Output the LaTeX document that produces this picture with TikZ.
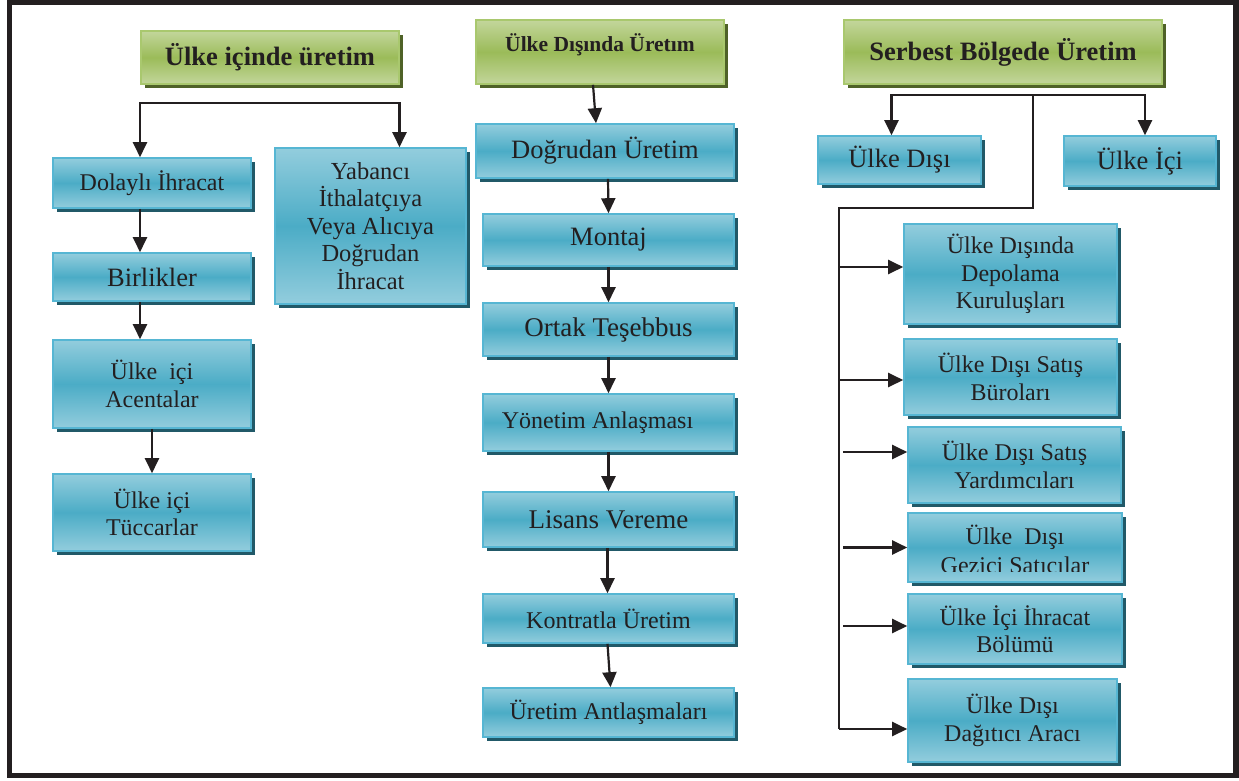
\documentclass[tikz,border=0pt]{standalone}
\usepackage{fontspec}
\setmainfont{Liberation Serif}
\usetikzlibrary{arrows.meta,shadows,calc}

\definecolor{blueLight}{HTML}{93CDDD}
\definecolor{blueMid}{HTML}{4BACC6}
\definecolor{blueEdge}{HTML}{56B6D3}
\definecolor{blueShadow}{HTML}{215968}
\definecolor{greenLight}{HTML}{C3D69B}
\definecolor{greenMid}{HTML}{9BBB59}
\definecolor{greenEdge}{HTML}{A9C86E}
\definecolor{greenShadow}{HTML}{4F6228}
\definecolor{ink}{HTML}{231F20}

\tikzset{
  fs/.style={font=\fontsize{#1}{27.5}\selectfont},
  bluebox/.style={draw=blueEdge, line width=1.6pt,
    top color=blueLight, bottom color=blueLight, middle color=blueMid,
    drop shadow={shadow xshift=4pt, shadow yshift=-4pt, fill=blueShadow, opacity=1},
    align=center, inner sep=2pt, text=ink, fs=24},
  greenbox/.style={draw=greenEdge, line width=1.6pt,
    top color=greenLight, bottom color=greenLight, middle color=greenMid,
    drop shadow={shadow xshift=4pt, shadow yshift=-4pt, fill=greenShadow, opacity=1},
    align=center, inner sep=2pt, text=ink},
  bsize/.style n args={2}{minimum width=#1pt, minimum height=#2pt},
  link/.style={draw=ink, line width=2.2pt},
  arr/.style={link, -{Triangle[length=15pt,width=14pt]}},
  arrtwo/.style={link, {Triangle[length=15pt,width=14pt]}-{Triangle[length=15pt,width=14pt]}},
}

\begin{document}
\begin{tikzpicture}[x=1pt,y=-1pt]
% page and outer frame
\path[fill=white] (0,0) rectangle (1239,780);
\useasboundingbox (0,0) rectangle (1239,780);
\draw[ink, line width=5.5pt] (9.5,2.5) rectangle (1236,775.5);

% ---------- column 1: production at home ----------
\node[greenbox, bsize={258}{53}, font=\bfseries\fontsize{26.5}{30}\selectfont] (h1) at (270,57.5) {Ülke içinde üretim};
\node[bluebox, bsize={198}{50}] (dol) at (152,183) {Dolaylı İhracat};
\node[bluebox, bsize={191}{156}, fs=24.5] (yab) at (370.5,226) {Yabancı\\İthalatçıya\\Veya Alıcıya\\Doğrudan\\İhracat};
\node[bluebox, bsize={198}{48}, fs=26.5] (bir) at (152,277) {Birlikler};
\node[bluebox, bsize={198}{88}] (ace) at (152,384) {Ülke\ \ içi\\Acentalar};
\node[bluebox, bsize={198}{77}] (tuc) at (152,512.5) {Ülke içi\\Tüccarlar};

\coordinate (bar1) at (270,103);
\draw[arrtwo] ([xshift=-12pt]dol.north) |- (bar1) -| ([xshift=29pt]yab.north);
\draw[arr] ([xshift=-12pt]dol.south) -- ([xshift=-12pt]bir.north);
\draw[arr] ([xshift=-12pt]bir.south) -- ([xshift=-12pt]ace.north);
\draw[arr] (ace.south) -- (tuc.north);

% ---------- column 2: production abroad ----------
\node[greenbox, bsize={248}{64}, font=\bfseries\fontsize{21.5}{25}\selectfont, text depth=19pt] (h2) at (600,52) {Ülke Dışında Üretım};
\node[bluebox, bsize={258}{54}, fs=26.5] (dog) at (605,151) {Doğrudan Üretim};
\node[bluebox, bsize={251}{52}, fs=26.5] (mon) at (608.5,240) {Montaj};
\node[bluebox, bsize={251}{53}, fs=27] (ort) at (608.5,329.5) {Ortak Teşebbus};
\node[bluebox, bsize={251}{57}] (yon) at (608.5,422.5) {Yönetim Anlaşması\hspace*{22pt}};
\node[bluebox, bsize={251}{55}, fs=27] (lis) at (608.5,519.5) {Lisans Vereme};
\node[bluebox, bsize={251}{49}] (kon) at (608.5,618.5) {Kontratla Üretim};
\node[bluebox, bsize={251}{49}] (ura) at (608.5,712.5) {Üretim Antlaşmaları};

\draw[arr] ([xshift=-7pt]h2.south) -- ([xshift=-9pt]dog.north);
\draw[arr] ([xshift=3pt]dog.south) -- (mon.north);
\draw[arr] (mon.south) -- (ort.north);
\draw[arr] (ort.south) -- (yon.north);
\draw[arr] (yon.south) -- (lis.north);
\draw[arr] ([xshift=-1pt]lis.south) -- ([xshift=-1pt]kon.north);
\draw[arr] ([xshift=-1pt]kon.south) -- ([xshift=2pt]ura.north);

% ---------- column 3: free zone production ----------
\node[greenbox, bsize={318}{64}, font=\bfseries\fontsize{26.5}{30}\selectfont] (h3) at (1003,52) {Serbest Bölgede Üretim};
\node[bluebox, bsize={163}{48}, fs=26.5] (udis) at (899.5,160) {Ülke Dışı};
\node[bluebox, bsize={152}{50}, fs=26.5] (uici) at (1140,161) {Ülke İçi};
\node[bluebox, bsize={213}{100}] (dep) at (1010.5,274) {Ülke Dışında\\Depolama\\Kuruluşları};
\node[bluebox, bsize={213}{76}] (sbu) at (1010.5,377) {Ülke Dışı Satış\\Büroları};
\node[bluebox, bsize={213}{76}] (syr) at (1014.5,465) {Ülke Dışı Satış\\Yardımcıları};
\node[bluebox, bsize={214}{69}] (gez) at (1015,547.5) {};
\begin{scope}
  % the second line runs past the lower edge of the box and is cut off
  \clip (909,514) rectangle (1121,571.5);
  \node[font=\fontsize{24}{29}\selectfont, align=center, text=ink] (gezt) at (1015,549.5) {Ülke\ \ Dışı\\Gezici Satıcılar};
\end{scope}
\node[bluebox, bsize={214}{70}] (ihb) at (1015,629) {Ülke İçi İhracat\\Bölümü};
\node[bluebox, bsize={209}{83}] (dag) at (1012.5,720.5) {Ülke Dışı\\Dağıtıcı Aracı};

\coordinate (bar3) at (1000,95);
\coordinate (split) at (1033,95);
\coordinate (turn) at (839,208);
\coordinate (trunk) at (839,729);
\draw[arrtwo] ([xshift=-8pt]udis.north) |- (bar3) -| ([xshift=5pt]uici.north);
\draw[link] (split) |- (turn) -- (trunk);

\coordinate (t1) at ($(dep.west)+(0,-7)$);
\coordinate (t2) at ($(sbu.west)+(0,3)$);
\coordinate (t3) at ($(syr.west)+(0,-13)$);
\coordinate (t4) at (gez.west);
\coordinate (t5) at ($(ihb.west)+(0,-3)$);
\coordinate (t6) at ($(dag.west)+(0,8.5)$);
\draw[arr] (t1 -| trunk) -- (t1);
\draw[arr] (t2 -| trunk) -- (t2);
\draw[arr] ($(t3 -| trunk)+(4,0)$) -- (t3);
\draw[arr] ($(t4 -| trunk)+(4,0)$) -- (t4);
\draw[arr] ($(t5 -| trunk)+(4,0)$) -- (t5);
\draw[arr] (t6 -| trunk) -- (t6);
\end{tikzpicture}
\end{document}
